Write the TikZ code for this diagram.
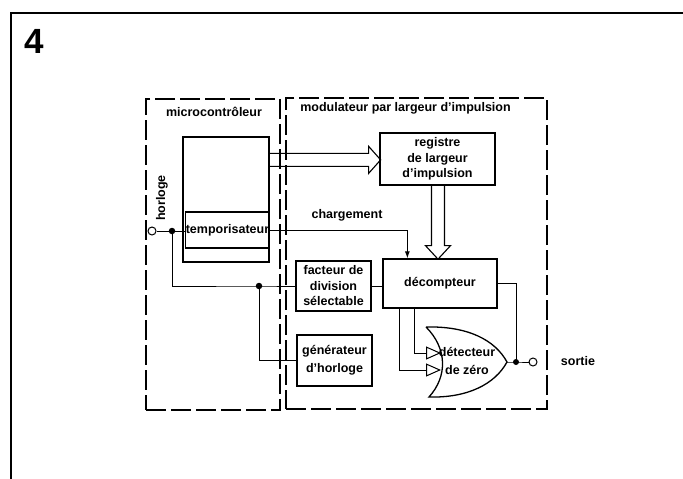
\documentclass[tikz,border=0pt]{standalone}
\usepackage{fontspec}
\setmainfont{Liberation Sans}
\usetikzlibrary{arrows.meta,calc}
\begin{document}
\begin{tikzpicture}[x=1pt,y=-1pt,
  txt/.style={font=\bfseries\fontsize{12.5}{15.5}\selectfont, align=center, inner sep=0pt},
  blk/.style={draw, line width=1.3pt, txt},
  dashframe/.style={draw, dash pattern=on 20pt off 5pt, line width=1.2pt, inner sep=0pt},
  wirestyle/.style={line width=1pt},
  busstyle/.style={line width=1.1pt, line join=miter},
  jdot/.style={circle, fill, inner sep=0pt, minimum size=6.5pt},
  port/.style={circle, draw, line width=1pt, fill=white, inner sep=0pt, minimum size=8pt},
  ]
\useasboundingbox (0,0) rectangle (683,479);
% outer frame (cropped on right and bottom)
\draw[line width=1.6pt] (11,479) -- (11,13) -- (683,13);
\node[font=\bfseries\fontsize{35}{35}\selectfont, inner sep=0pt] (num) at (34,41) {4};

% dashed frames
\node[dashframe, minimum width=134pt, minimum height=311pt] (mframe) at (213,254.5) {};
\node[dashframe, minimum width=261pt, minimum height=311pt] (pframe) at (416.5,253.5) {};
\node[txt] (mlabel) at (214,112) {microcontrôleur};
\node[txt] (plabel) at (405.5,108) {modulateur par largeur d'impulsion};

% microcontroller blocks
\node[draw, line width=1.3pt, minimum width=86pt, minimum height=125pt, inner sep=0pt] (mcu) at (226,199.5) {};
\node[blk, minimum width=79pt, minimum height=36pt] (tempo) at (227.5,230) {temporisateur};
\node[txt, rotate=90] (horloge) at (162,198) {horloge};

% modulator blocks
\node[blk, minimum width=115pt, minimum height=52pt] (registre) at (437.5,159) {registre\\de largeur\\d'impulsion};
\node[blk, minimum width=75pt, minimum height=50pt] (facteur) at (333.5,286) {facteur de\\division\\sélectable};
\node[blk, minimum width=114pt, minimum height=49pt] (decompteur) at (440,283.5) {décompteur};
\node[blk, minimum width=75pt, minimum height=51pt, font=\bfseries\fontsize{12.5}{18}\selectfont] (generateur) at (334.5,360.5) {générateur\\d'horloge};

% zero detector gate (NOR)
\coordinate (gtl) at (426,327);
\coordinate (gbl) at (429,397);
\coordinate (gtip) at (507,362);
\draw[line width=1.3pt] (gtl) .. controls (468,326) and (495,340) .. (gtip)
  .. controls (495,384) and (468,398) .. (gbl)
  .. controls (448,376) and (447,348) .. (gtl);
\node[txt, font=\bfseries\fontsize{12.5}{18}\selectfont] (detecteur) at (467,361) {détecteur\\de zéro};

% ports and junctions
\node[port] (in) at (152,231) {};
\node[jdot] (d1) at (172,231) {};
\node[jdot] (d2) at (259,286) {};
\node[jdot, minimum size=6pt] (d3) at (516,362) {};
\node[port] (out) at (533,362) {};
\node[txt] (sortie) at (578,361) {sortie};
\node[txt] (chg) at (347,215) {chargement};

% wires
\draw[wirestyle] (in) -- (in -| tempo.west);
\draw[wirestyle] (d1.center) |- (d2.center) -- (d2 -| facteur.west);
\draw[wirestyle] (d2.center) |- (generateur.west);
\draw[wirestyle] (facteur.east) -- (facteur.east -| decompteur.west);
\draw[wirestyle, -{Latex[length=7pt,width=5pt]}] (tempo.east) -| ([xshift=25pt]decompteur.north west);
\draw[wirestyle] (decompteur.east) -| (d3.center);
\draw[wirestyle] (gtip) -- (d3.center) -- (out);
\coordinate (gin1) at (441,353);
\coordinate (gin2) at (441,370);
\draw[wirestyle, -{Triangle[open, length=15pt, width=13pt]}] ([xshift=32pt]decompteur.south west) |- (gin1);
\draw[wirestyle, -{Triangle[open, length=15pt, width=13pt]}] ([xshift=17pt]decompteur.south west) |- (gin2);

% bus arrows
\draw[busstyle] ([yshift=-17pt]mcu.north east) -- ++(99,0) -- ++(0,-7) -- ++(12,13.5) -- ++(-12,13.5) -- ++(0,-7) -- ++(-99,0);
\draw[busstyle] ([xshift=-6pt]registre.south) -- ++(0,60) -- ++(-6,0) -- ++(12.5,13.5) -- ++(12.5,-13.5) -- ++(-6,0) -- ++(0,-60);
\end{tikzpicture}
\end{document}
